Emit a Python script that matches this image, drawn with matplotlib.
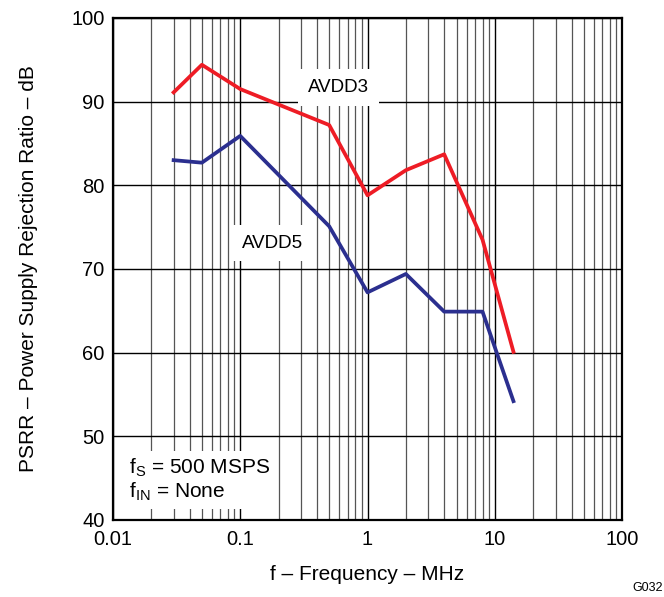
import numpy as np
import matplotlib
matplotlib.use("Agg")
import matplotlib.pyplot as plt
from matplotlib.ticker import LogLocator, NullFormatter

plt.rcParams["font.family"] = ["Liberation Sans", "DejaVu Sans"]

freq = [0.03, 0.05, 0.1, 0.5, 1, 2, 4, 8, 14]
avdd3 = [91.1, 94.4, 91.5, 87.2, 78.8, 81.8, 83.7, 73.5, 60.1]
avdd5 = [83.0, 82.7, 85.9, 75.1, 67.2, 69.4, 64.9, 64.9, 54.2]
xticks = [0.01, 0.1, 1, 10, 100]
xlabels = ["0.01", "0.1", "1", "10", "100"]
yticks = [40, 50, 60, 70, 80, 90, 100]

fig = plt.figure(figsize=(6.64, 5.97), dpi=100)
ax = fig.add_axes([0.170, 0.129, 0.767, 0.841])

ax.set_xscale("log")
ax.set_xlim(0.01, 100)
ax.set_ylim(40, 100)
ax.set_xticks(xticks)
ax.set_xticklabels(xlabels)
ax.xaxis.set_minor_locator(LogLocator(base=10, subs=np.arange(2, 10)))
ax.xaxis.set_minor_formatter(NullFormatter())
ax.set_yticks(yticks)

ax.grid(True, which="major", axis="both", color="black", linewidth=1.0)
ax.grid(True, which="minor", axis="x", color="#555555", linewidth=0.9)
ax.tick_params(which="both", length=0, labelsize=14.5)
ax.tick_params(axis="x", pad=7)
ax.tick_params(axis="y", pad=6)
for s in ax.spines.values():
    s.set_linewidth(1.6)

ax.plot(freq, avdd3, color="#ee1c25", linewidth=2.7, zorder=3)
ax.plot(freq, avdd5, color="#2b2f8f", linewidth=2.7, zorder=3)

box = dict(facecolor="white", edgecolor="none", pad=7)
ax.text(0.59, 91.7, "AVDD3", fontsize=13.5, ha="center", va="center", bbox=box, zorder=2)
ax.text(0.179, 73.1, "AVDD5", fontsize=13.5, ha="center", va="center", bbox=box, zorder=2)
ax.text(0.0135, 42.0, "f$_\\mathregular{S}$ = 500 MSPS\nf$_\\mathregular{IN}$ = None",
        fontsize=15, ha="left", va="bottom", linespacing=1.1,
        bbox=dict(facecolor="white", edgecolor="none", pad=4), zorder=2)

ax.set_xlabel("f \u2013 Frequency \u2013 MHz", fontsize=15, labelpad=12)
ax.set_ylabel("PSRR \u2013 Power Supply Rejection Ratio \u2013 dB", fontsize=15, labelpad=24)
fig.text(0.998, 0.005, "G032", fontsize=9, ha="right", va="bottom")

fig.savefig("out.png", dpi=100)
